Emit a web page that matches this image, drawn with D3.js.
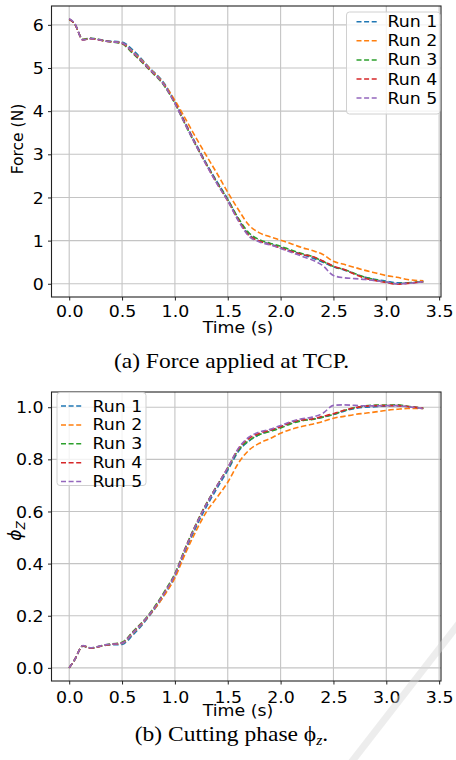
<!DOCTYPE html>
<html>
<head>
<meta charset="utf-8">
<script src="https://cdn.jsdelivr.net/npm/d3@7"></script>
<style>
  body { margin: 0; background: #fff; }
  text { font-family: "DejaVu Sans", sans-serif; fill: #000; }
  .caption { font-family: "Liberation Serif", "Times New Roman", serif; }
</style>
</head>
<body>
<div id="chart"></div>
<script>
// Sampled time stamps (s) shared by all runs
var time = [0, 0.05, 0.13, 0.2, 0.35, 0.5, 0.6, 0.75, 0.9, 1.0, 1.1, 1.2, 1.3, 1.4, 1.5, 1.6, 1.7,
            1.8, 1.9, 2.0, 2.1, 2.2, 2.3, 2.4, 2.5, 2.6, 2.7, 2.8, 2.9, 3.0, 3.1, 3.2, 3.35];

// Force at TCP (N), one array per run
var forceRun1 = [6.13, 6.03, 5.66, 5.69, 5.63, 5.60, 5.42, 5.03, 4.64, 4.22, 3.72, 3.24, 2.78, 2.36, 1.96, 1.50, 1.14,
                 0.99, 0.92, 0.84, 0.76, 0.68, 0.60, 0.50, 0.39, 0.32, 0.23, 0.15, 0.10, 0.06, 0.02, 0.02, 0.05];
var forceRun2 = [6.13, 6.03, 5.66, 5.68, 5.62, 5.58, 5.38, 5.02, 4.62, 4.25, 3.82, 3.38, 2.96, 2.55, 2.12, 1.72, 1.36,
                 1.18, 1.09, 1.01, 0.93, 0.84, 0.77, 0.68, 0.52, 0.45, 0.38, 0.31, 0.25, 0.19, 0.15, 0.10, 0.07];
var forceRun3 = [6.13, 6.03, 5.66, 5.69, 5.62, 5.56, 5.34, 4.98, 4.58, 4.18, 3.68, 3.20, 2.76, 2.34, 1.95, 1.52, 1.18,
                 1.02, 0.94, 0.87, 0.78, 0.70, 0.63, 0.52, 0.40, 0.33, 0.24, 0.15, 0.09, 0.04, 0.00, 0.02, 0.05];
var forceRun4 = [6.13, 6.03, 5.65, 5.68, 5.62, 5.57, 5.36, 4.99, 4.60, 4.19, 3.70, 3.21, 2.75, 2.32, 1.92, 1.48, 1.12,
                 0.99, 0.91, 0.83, 0.75, 0.68, 0.63, 0.53, 0.41, 0.33, 0.22, 0.13, 0.07, 0.03, -0.01, 0.01, 0.05];
var forceRun5 = [6.14, 6.04, 5.65, 5.68, 5.62, 5.58, 5.37, 5.00, 4.60, 4.18, 3.68, 3.20, 2.74, 2.31, 1.92, 1.46, 1.10,
                 0.97, 0.90, 0.82, 0.73, 0.64, 0.55, 0.42, 0.19, 0.14, 0.12, 0.10, 0.07, 0.04, 0.00, 0.01, 0.05];

// Cutting phase phi_z, one array per run
var phiRun1 = [0, 0.03, 0.083, 0.075, 0.087, 0.090, 0.125, 0.195, 0.280, 0.350, 0.450, 0.540, 0.620, 0.690, 0.758, 0.830, 0.870,
               0.895, 0.910, 0.925, 0.940, 0.950, 0.955, 0.962, 0.972, 0.985, 0.995, 1.000, 1.002, 1.005, 1.006, 1.003, 0.995];
var phiRun2 = [0, 0.03, 0.084, 0.076, 0.088, 0.094, 0.132, 0.198, 0.278, 0.345, 0.440, 0.525, 0.600, 0.655, 0.712, 0.785, 0.835,
               0.862, 0.880, 0.900, 0.915, 0.926, 0.935, 0.945, 0.958, 0.965, 0.972, 0.977, 0.982, 0.988, 0.992, 0.995, 0.995];
var phiRun3 = [0, 0.03, 0.085, 0.077, 0.089, 0.098, 0.138, 0.203, 0.292, 0.362, 0.462, 0.552, 0.632, 0.700, 0.765, 0.835, 0.872,
               0.895, 0.907, 0.920, 0.937, 0.948, 0.953, 0.962, 0.972, 0.987, 0.998, 1.005, 1.008, 1.008, 1.009, 1.004, 0.996];
var phiRun4 = [0, 0.03, 0.085, 0.076, 0.088, 0.096, 0.135, 0.200, 0.288, 0.358, 0.460, 0.550, 0.630, 0.700, 0.768, 0.840, 0.880,
               0.900, 0.912, 0.925, 0.942, 0.951, 0.955, 0.965, 0.975, 0.988, 0.998, 1.004, 1.006, 1.006, 1.006, 1.003, 0.996];
var phiRun5 = [0, 0.03, 0.086, 0.077, 0.089, 0.095, 0.134, 0.200, 0.287, 0.357, 0.458, 0.549, 0.629, 0.699, 0.768, 0.842, 0.885,
               0.905, 0.915, 0.930, 0.945, 0.956, 0.962, 0.977, 1.007, 1.009, 1.007, 1.005, 1.005, 1.006, 1.006, 1.002, 0.995];

var runNames = ["Run 1", "Run 2", "Run 3", "Run 4", "Run 5"];
var runColors = ["#1f77b4", "#ff7f0e", "#2ca02c", "#d62728", "#9467bd"];

var xTicks = [0, 0.5, 1.0, 1.5, 2.0, 2.5, 3.0, 3.5];
var forceTicks = [0, 1, 2, 3, 4, 5, 6];
var phiTicks = [0, 0.2, 0.4, 0.6, 0.8, 1.0];

// The reference picture is slightly stretched sideways, so text gets the same stretch
var SX = 1.12;
var FS = "15.5px";

var svgWidth = 456;
var svgHeight = 760;

var svg = d3.select("#chart")
  .append("svg")
  .attr("width", svgWidth)
  .attr("height", svgHeight);

svg.append("rect")
  .attr("width", svgWidth)
  .attr("height", svgHeight)
  .attr("fill", "#fff");

// shared x scale (same in both panels)
var xScale = d3.scaleLinear()
  .domain([-0.1675, 3.5175])
  .range([51.5, 441]);

function stretchText(sel, x, y) {
  sel.attr("transform", `translate(${x},${y}) scale(${SX},1)`);
}

function drawPanel(p) {
  var yScale = d3.scaleLinear().domain(p.yDomain).range([p.bottom, p.top]);
  var g = svg.append("g");
  var left = xScale.range()[0], right = xScale.range()[1];

  // grid
  g.selectAll(".vgrid").data(xTicks).enter().append("line")
    .attr("x1", d => xScale(d)).attr("x2", d => xScale(d))
    .attr("y1", p.top).attr("y2", p.bottom)
    .attr("stroke", "#c4c4c4").attr("stroke-width", 1.1);
  g.selectAll(".hgrid").data(p.yTicks).enter().append("line")
    .attr("x1", left).attr("x2", right)
    .attr("y1", d => yScale(d)).attr("y2", d => yScale(d))
    .attr("stroke", "#c4c4c4").attr("stroke-width", 1.1);

  // runs
  var line = d3.line()
    .x(d => xScale(d[0]))
    .y(d => yScale(d[1]))
    .curve(d3.curveMonotoneX);

  p.series.forEach(function(vals, i) {
    g.append("path")
      .datum(time.map((t, k) => [t, vals[k]]))
      .attr("d", line)
      .attr("fill", "none")
      .attr("stroke", runColors[i])
      .attr("stroke-width", 1.6)
      .attr("stroke-dasharray", "5.5,2.6");
  });

  // axes
  var bottomAxis = d3.axisBottom(xScale).tickValues(xTicks).tickFormat(d3.format(".1f"))
    .tickSize(3.5).tickSizeOuter(0);
  var leftAxis = d3.axisLeft(yScale).tickValues(p.yTicks).tickFormat(p.yFormat)
    .tickSize(3.5).tickSizeOuter(0);

  var xa = g.append("g").attr("transform", `translate(0,${p.bottom})`).call(bottomAxis);
  var ya = g.append("g").attr("transform", `translate(${left},0)`).call(leftAxis);
  [xa, ya].forEach(function(a) {
    a.select(".domain").remove();
    a.selectAll("line").attr("stroke", "#222");
    a.selectAll("text").attr("font-size", FS)
      .attr("font-family", "DejaVu Sans").attr("fill", "#000");
  });
  xa.selectAll("text").attr("y", p.xTickBase).attr("dy", null)
    .attr("transform", `scale(${SX},1)`);
  ya.selectAll("text").attr("x", -7).attr("dy", "0.36em")
    .attr("transform", `scale(${SX},1)`);

  // frame
  g.append("rect")
    .attr("x", left).attr("y", p.top)
    .attr("width", right - left).attr("height", p.bottom - p.top)
    .attr("fill", "none").attr("stroke", "#222").attr("stroke-width", 1.1);

  // x label
  g.append("text")
    .attr("text-anchor", "middle")
    .attr("font-size", FS)
    .text("Time (s)")
    .call(stretchText, 238, p.xLabelBase);

  // legend
  var L = p.legend;
  var lg = g.append("g");
  lg.append("rect")
    .attr("x", L.x).attr("y", L.y).attr("width", L.w).attr("height", L.h)
    .attr("rx", 3).attr("fill", "#fff").attr("fill-opacity", 0.8)
    .attr("stroke", "#d0d0d0").attr("stroke-width", 1);
  runNames.forEach(function(name, i) {
    var yy = L.y0 + i * L.step;
    lg.append("line")
      .attr("x1", L.hx0).attr("x2", L.hx1).attr("y1", yy).attr("y2", yy)
      .attr("stroke", runColors[i]).attr("stroke-width", 1.5)
      .attr("stroke-dasharray", "5,2.6");
    lg.append("text")
      .attr("font-size", FS)
      .attr("dy", "0.36em")
      .text(name)
      .call(stretchText, L.tx, yy);
  });
  return g;
}

var topPanel = drawPanel({
  top: 6, bottom: 297,
  yDomain: [-0.3065, 6.4365],
  yTicks: forceTicks,
  yFormat: d3.format("d"),
  series: [forceRun1, forceRun2, forceRun3, forceRun4, forceRun5],
  xTickBase: 20,
  xLabelBase: 332.5,
  legend: { x: 346.5, y: 12, w: 93.5, h: 102, y0: 21.7, step: 19.1, hx0: 356.5, hx1: 378.5, tx: 387.5 }
});

// y label top
topPanel.append("text")
  .attr("text-anchor", "middle")
  .attr("font-size", "15.5px")
  .attr("transform", "translate(23,139) rotate(-90)")
  .text("Force (N)");

var botPanel = drawPanel({
  top: 392, bottom: 681,
  yDomain: [-0.0504, 1.0584],
  yTicks: phiTicks,
  yFormat: d3.format(".1f"),
  series: [phiRun1, phiRun2, phiRun3, phiRun4, phiRun5],
  xTickBase: 22,
  xLabelBase: 716,
  legend: { x: 57, y: 392.5, w: 89, h: 93, y0: 406, step: 18.9, hx0: 61, hx1: 83.5, tx: 92.5 }
});

// y label bottom: phi_z
var phiLabel = botPanel.append("text")
  .attr("text-anchor", "middle")
  .attr("font-size", "17px")
  .attr("transform", "translate(21,531) rotate(-90)");
phiLabel.append("tspan").attr("font-style", "italic").text("\u03D5");
phiLabel.append("tspan").attr("font-style", "italic").attr("font-size", "12px")
  .attr("dy", "4").text("Z");

// captions
svg.append("text")
  .attr("class", "caption")
  .attr("text-anchor", "middle")
  .attr("font-size", "21px")
  .text("(a) Force applied at TCP.")
  .call(stretchText, 231.5, 368);

var capB = svg.append("text")
  .attr("class", "caption")
  .attr("text-anchor", "middle")
  .attr("font-size", "21px")
  .call(stretchText, 231.5, 741);
capB.append("tspan").text("(b) Cutting phase \u03D5");
capB.append("tspan").attr("font-size", "14px").attr("font-style", "italic").attr("dy", "4").text("z");
capB.append("tspan").attr("dy", "-4").text(".");

// faint watermark stroke at the lower right of the page
svg.append("line")
  .attr("x1", 350).attr("y1", 764).attr("x2", 460).attr("y2", 622)
  .attr("stroke", "#d8d8d8").attr("stroke-opacity", 0.45).attr("stroke-width", 7)
  .attr("stroke-linecap", "butt");
</script>
</body>
</html>
